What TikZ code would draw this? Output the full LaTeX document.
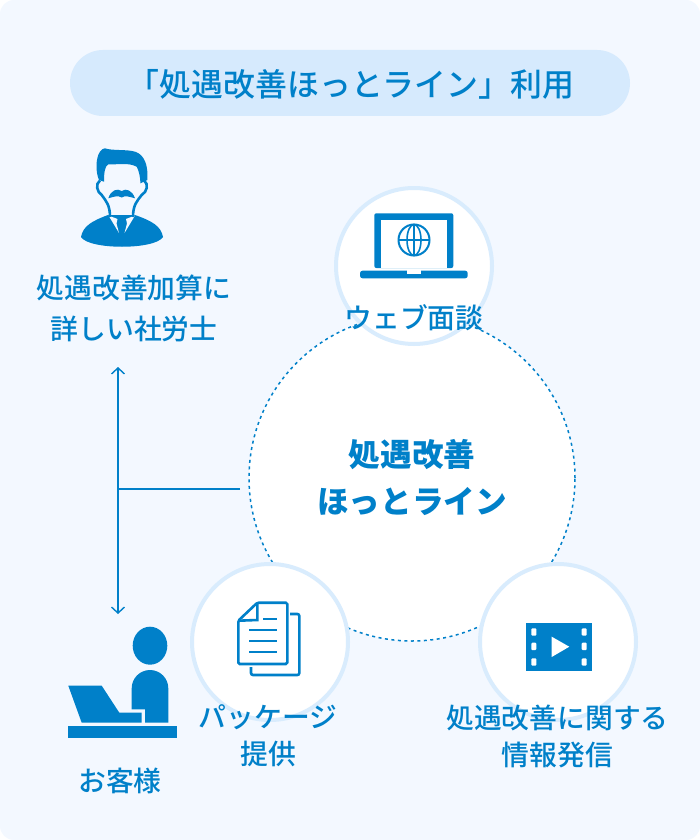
\documentclass[tikz,border=0pt]{standalone}
\usepackage{fontspec}
\usepackage{xcolor}
\setmainfont{Noto Sans CJK JP}[UprightFont=* Medium]
\newfontfamily\hubfont{Noto Sans CJK JP}
\usetikzlibrary{arrows.meta,positioning}
\definecolor{pagebg}{HTML}{F3F8FF}
\definecolor{pillbg}{HTML}{D6EAFD}
\definecolor{ringblue}{HTML}{D9ECFD}
\definecolor{mainblue}{HTML}{0080C9}
\begin{document}
\begin{tikzpicture}[x=1pt,y=-1pt,>={Straight Barb[length=6pt,width=13pt]},line width=1.4pt]
            \tikzstyle{every node}=[inner sep=0pt,text=mainblue,align=center]
            \tikzstyle{label27}=[font=\fontsize{27.8}{41}\selectfont]
            \tikzstyle{label27b}=[font=\fontsize{27.8}{37}\selectfont]
            \tikzstyle{hubtext}=[font=\fontsize{31.6}{47}\selectfont\hubfont\bfseries]
            \tikzstyle{service}=[circle,draw=ringblue,fill=white,line width=4pt,minimum size=156pt]
            \tikzstyle{icon}=[fill=mainblue,draw=none]
            \tikzstyle{cutout}=[fill=white,draw=none]
            \tikzstyle{outline}=[draw=mainblue,line width=2.6pt,fill=none]
            \useasboundingbox (0,0) rectangle (700,840);
            \fill[pagebg] (0,0) [rounded corners=14pt] rectangle (700,840);
            % title
            \node[fill=pillbg,rounded corners=33pt,minimum width=560pt,minimum height=66pt] (title) at (350,83) {};
            \node[font=\fontsize{31.9}{36}\selectfont] (titletext) at (351,84) {「処遇改善ほっとライン」利用};
            % centre and services
            \node[circle,draw=mainblue,fill=white,dash pattern=on 3pt off 3.5pt,line width=1.5pt,minimum size=326pt] (hub) at (412,478) {};
            \node[service] (web) at (414,266) {};
            \node[service] (pack) at (270,642) {};
            \node[service] (info) at (558,642) {};
            \node[hubtext] (hubtext) at (412,478) {処遇改善\\ほっとライン};
            \node[label27] (weblabel) at (414,318) {ウェブ面談};
            \node[label27b] (packlabel) at (268,736) {パッケージ\\提供};
            \node[label27b] (infolabel) at (557.5,736) {処遇改善に関する\\情報発信};
            \node[label27] (adviser) at (134,308) {処遇改善加算に\\詳しい社労士};
            \node[label27] (client) at (120,781) {お客様};
            % connectors
            \coordinate (armtop) at (118,367);
            \coordinate (armbottom) at (118,614);
            \coordinate (armjoin) at (118,489);
            \coordinate (hubleft) at (240,489);
            \draw[<->,mainblue] (armtop) -- (armbottom);
            \draw[mainblue] (hubleft) -- (armjoin);
            % man
            \fill[icon] (81,237) .. controls (83,226) and (92,221) .. (108,215) -- (135,215) .. controls (152,221) and (161,226) .. (163,237) .. controls (155,250) and (89,250) .. (81,237) -- cycle;
            \fill[pagebg] (108.5,215.5) -- (117.5,219) -- (116.5,223.5) -- (119,233) -- cycle;
            \fill[pagebg] (135,215.5) -- (126,219) -- (127,223.5) -- (124.5,233) -- cycle;
            \fill[icon] (105,148.3) .. controls (112,151) and (128,149) .. (136,152) .. controls (144,155) and (148.5,165) .. (147.3,180) -- (140.5,183.3) .. controls (140,176) and (139,171) .. (136.7,166.7) .. controls (128,162) and (116,165) .. (108.3,164.3) .. controls (105,166) and (104,172) .. (104,181.7) -- (99,180) .. controls (95.5,172) and (95.5,158) .. (100,151.7) .. controls (101.5,149.5) and (103,148.5) .. (105,148.3) -- cycle;
            \draw[mainblue,line width=2.6pt] (100,180.5) .. controls (95,184) and (97,192) .. (101.7,195) .. controls (106,201) and (110,205) .. (110,217);
            \draw[mainblue,line width=2.6pt] (144,180.5) .. controls (149,184) and (147,192) .. (141.7,195) .. controls (137,201) and (133,205) .. (133,217);
            \fill[icon] (108.3,198.3) .. controls (111,190) and (117,188) .. (121.7,191) .. controls (126,188) and (132,190) .. (135,198.3) .. controls (130,197) and (125,195) .. (121.7,197.5) .. controls (118,195) and (113,197) .. (108.3,198.3) -- cycle;
            % laptop
            \fill[icon,rounded corners=2pt] (374.3,268) -- (374.3,213.3) -- (453.3,213.3) -- (453.3,268) -- cycle;
            \fill[cutout] (380.7,220) rectangle (446.7,268);
            \draw[mainblue,line width=2pt] (414,240) circle (15.5pt);
            \draw[mainblue,line width=1.6pt] (414,240) ellipse (7pt and 15.5pt);
            \draw[mainblue,line width=1.6pt] (398.5,240) -- (429.5,240) (414,224.5) -- (414,255.5);
            \fill[icon,rounded corners=2.5pt] (360,270.7) -- (467.7,270.7) -- (467.7,278.3) -- (360,278.3) -- cycle;
            \fill[cutout] (407.3,270) rectangle (420.7,273.7);
            % document
            \draw[outline,rounded corners=1.5pt] (257.3,602.7) -- (287.3,602.7) -- (287.3,664) -- (238.3,664) -- (238.3,620.7) -- cycle;
            \draw[outline] (257.3,602.7) -- (257.3,620) -- (238.3,620.7);
            \draw[outline,rounded corners=2pt] (290,614) -- (299.3,614) -- (299.3,675) -- (251,675) -- (251,667);
            \draw[outline,line width=2pt] (263.3,619.3) -- (276.7,619.3) (249,630) -- (276.7,630) (249,640.7) -- (276.7,640.7) (249,651.7) -- (276.7,651.7);
            % film
            \fill[icon] (526,623.3) rectangle (592,670.7);
            \foreach \hy in {628.3,642.7,658.3} {
                \fill[cutout,rounded corners=1pt] (531.3,\hy) rectangle +(5,7.4);
                \fill[cutout,rounded corners=1pt] (581.7,\hy) rectangle +(5,7.4);
            }
            \fill[cutout] (551.7,636.7) -- (569.3,646.7) -- (551.7,657) -- cycle;
            % client
            \fill[icon] (150,645.7) ellipse (17.3pt and 19pt);
            \fill[icon] (131.7,709.3) -- (131.7,688.3) arc[start angle=180,end angle=0,radius=18.3pt] -- (168.3,722.7) -- (145,722.7) -- (145,709.3) -- cycle;
            \fill[icon] (68.3,685.7) -- (101.7,685.7) -- (119.3,712.7) -- (141.7,712.7) -- (141.7,722.7) -- (81.7,722.7) -- cycle;
            \fill[icon] (68.3,726) rectangle (177.3,738.3);
\end{tikzpicture}
\end{document}
